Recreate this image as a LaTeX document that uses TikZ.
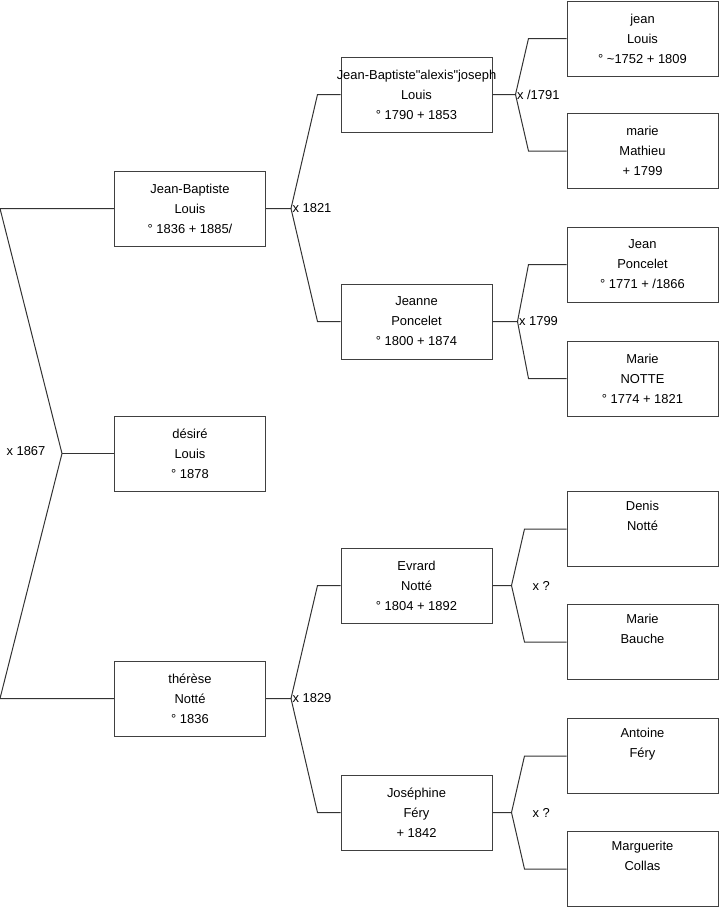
\documentclass[tikz,border=0pt]{standalone}
\usepackage{fontspec}
\setmainfont{Liberation Sans}[Ligatures=TeXOff]
\usetikzlibrary{positioning, calc}

\begin{document}
\begin{tikzpicture}[
		x=0.75pt, y=-0.75pt,
		person/.style={rectangle, draw=black!75, line width=0.75pt, minimum width=113.25pt, minimum height=56.25pt, inner sep=0pt, align=center, font=\fontsize{9.7}{15}\selectfont},
		link/.style={draw=black!80, line width=0.75pt},
		marr/.style={inner sep=1pt, font=\fontsize{9.7}{11}\selectfont}
	]
	\useasboundingbox (0,0) rectangle (719,908);

	% 1. Enfants (colonne gauche)
	\node[person] (jb) at (190,208.5) {Jean-Baptiste\\Louis\\° 1836 + 1885/};
	\node[person] (desire) at (190,453.5) {désiré\\Louis\\° 1878};
	\node[person] (therese) at (190,698.5) {thérèse\\Notté\\° 1836};

	% 2. Parents
	\node[person] (jba) at (416.5,94.5) {\makebox[0pt]{Jean-Baptiste"alexis"joseph}\\Louis\\° 1790 + 1853};
	\node[person] (jeanne) at (416.5,321.5) {Jeanne\\Poncelet\\° 1800 + 1874};
	\node[person] (evrard) at (416.5,585.5) {Evrard\\Notté\\° 1804 + 1892};
	\node[person] (josephine) at (416.5,812.5) {Joséphine\\Féry\\+ 1842};

	% 3. Grands-parents
	\node[person] (jean) at (642.5,38.5) {jean\\Louis\\° \textasciitilde1752 + 1809};
	\node[person] (marie) at (642.5,151) {marie\\Mathieu\\+ 1799};
	\node[person] (poncelet) at (642.5,264.5) {Jean\\Poncelet\\° 1771 + /1866};
	\node[person] (notte) at (642.5,378.5) {Marie\\NOTTE\\° 1774 + 1821};
	\node[person] (denis) at (642.5,529) {Denis\\Notté\\\strut};
	\node[person] (bauche) at (642.5,642) {Marie\\Bauche\\\strut};
	\node[person] (antoine) at (642.5,756) {Antoine\\Féry\\\strut};
	\node[person] (collas) at (642.5,869) {Marguerite\\Collas\\\strut};

	% 4. Fourche des enfants
	\coordinate (root) at (62,453.5);
	\coordinate (rtop) at (0,208.5);
	\coordinate (rbot) at (0,698.5);
	\draw[link] (jb.west) -- (rtop) -- (root) -- (rbot) -- (therese.west);
	\draw[link] (root) -- (desire.west);
	\node[marr, anchor=east] (m1867) at ($(root)+(-15,-2)$) {x 1867};

	% 5. Mariages des parents
	\draw[link] (jb.east) -- ++(25,0) coordinate (v1821) -- ($(jba.west)+(-23,0)$) -- (jba.west);
	\draw[link] (v1821) -- ($(jeanne.west)+(-23,0)$) -- (jeanne.west);
	\node[marr, anchor=west] (m1821) at (v1821) {x 1821};

	\draw[link] (therese.east) -- ++(25,0) coordinate (v1829) -- ($(evrard.west)+(-23,0)$) -- (evrard.west);
	\draw[link] (v1829) -- ($(josephine.west)+(-23,0)$) -- (josephine.west);
	\node[marr, anchor=west] (m1829) at (v1829) {x 1829};

	% 6. Mariages des grands-parents
	\draw[link] (jba.east) -- ++(23,0) coordinate (v1791) -- ($(jean.west)+(-38,0)$) -- (jean.west);
	\draw[link] (v1791) -- ($(marie.west)+(-38,0)$) -- (marie.west);
	\node[marr, anchor=west] (m1791) at (v1791) {x /1791};

	\draw[link] (jeanne.east) -- ++(25,0) coordinate (v1799) -- ($(poncelet.west)+(-38,0)$) -- (poncelet.west);
	\draw[link] (v1799) -- ($(notte.west)+(-38,0)$) -- (notte.west);
	\node[marr, anchor=west] (m1799) at (v1799) {x 1799};

	\draw[link] (evrard.east) -- ++(19,0) coordinate (vev) -- ($(denis.west)+(-42,0)$) -- (denis.west);
	\draw[link] (vev) -- ($(bauche.west)+(-42,0)$) -- (bauche.west);
	\node[marr, anchor=west] (mev) at ($(vev)+(19.5,0)$) {x ?};

	\draw[link] (josephine.east) -- ++(19,0) coordinate (vjo) -- ($(antoine.west)+(-42,0)$) -- (antoine.west);
	\draw[link] (vjo) -- ($(collas.west)+(-42,0)$) -- (collas.west);
	\node[marr, anchor=west] (mjo) at ($(vjo)+(19.5,0)$) {x ?};

\end{tikzpicture}
\end{document}
